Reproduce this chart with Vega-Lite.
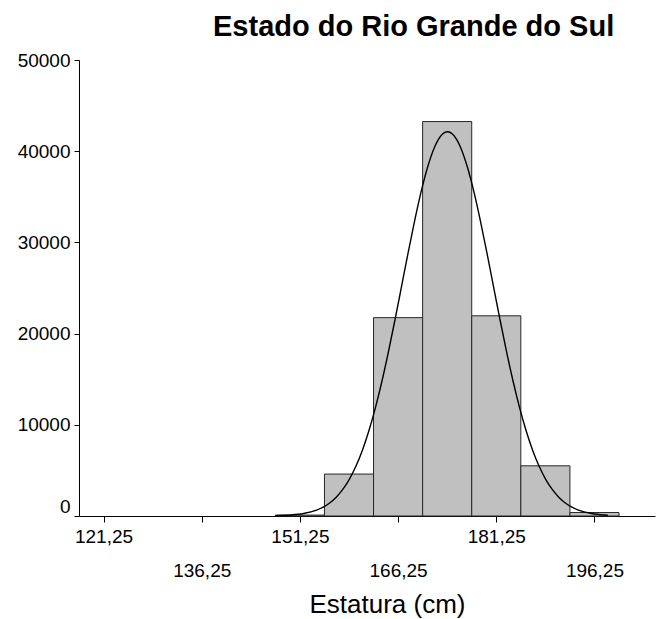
{
  "$schema": "https://vega.github.io/schema/vega-lite/v6.json",
  "width": 576,
  "height": 456,
  "autosize": {"type": "none"},
  "padding": {"left": 79, "top": 60, "right": 4, "bottom": 103},
  "background": "white",
  "config": {
    "view": {"stroke": null},
    "font": "Liberation Sans",
    "axis": {"labelFont": "Liberation Sans", "titleFont": "Liberation Sans", "labelColor": "black", "titleColor": "black", "domainColor": "black", "tickColor": "black", "grid": false, "titleFontWeight": "normal"}
  },
  "title": {
    "text": "Estado do Rio Grande do Sul",
    "font": "Liberation Sans",
    "fontSize": 29,
    "fontWeight": "bold",
    "color": "black",
    "anchor": "start",
    "frame": "group",
    "dx": 134,
    "baseline": "alphabetic",
    "offset": -14
  },
  "datasets": {
    "bars": [
      {"bin_start": 147.5, "bin_end": 155, "count": 100},
      {"bin_start": 155, "bin_end": 162.5, "count": 4600},
      {"bin_start": 162.5, "bin_end": 170, "count": 21750},
      {"bin_start": 170, "bin_end": 177.5, "count": 43250},
      {"bin_start": 177.5, "bin_end": 185, "count": 21950},
      {"bin_start": 185, "bin_end": 192.5, "count": 5500},
      {"bin_start": 192.5, "bin_end": 200, "count": 380}
    ],
    "curve": [
      {"x": 147.5, "y": 30},
      {"x": 149.8, "y": 103},
      {"x": 151.8, "y": 270},
      {"x": 153.8, "y": 648},
      {"x": 154.8, "y": 973},
      {"x": 155.8, "y": 1432},
      {"x": 156.8, "y": 2063},
      {"x": 157.8, "y": 2912},
      {"x": 158.8, "y": 4025},
      {"x": 159.8, "y": 5450},
      {"x": 160.8, "y": 7220},
      {"x": 161.8, "y": 9370},
      {"x": 162.8, "y": 11910},
      {"x": 163.8, "y": 14830},
      {"x": 164.8, "y": 18090},
      {"x": 165.8, "y": 21600},
      {"x": 166.8, "y": 25260},
      {"x": 167.8, "y": 28930},
      {"x": 168.8, "y": 32450},
      {"x": 169.8, "y": 35650},
      {"x": 170.8, "y": 38350},
      {"x": 171.8, "y": 40410},
      {"x": 172.8, "y": 41690},
      {"x": 173.8, "y": 42130},
      {"x": 174.8, "y": 41690},
      {"x": 175.8, "y": 40410},
      {"x": 176.8, "y": 38350},
      {"x": 177.8, "y": 35650},
      {"x": 178.8, "y": 32450},
      {"x": 179.8, "y": 28930},
      {"x": 180.8, "y": 25260},
      {"x": 181.8, "y": 21600},
      {"x": 182.8, "y": 18090},
      {"x": 183.8, "y": 14830},
      {"x": 184.8, "y": 11910},
      {"x": 185.8, "y": 9370},
      {"x": 186.8, "y": 7220},
      {"x": 187.8, "y": 5450},
      {"x": 188.8, "y": 4025},
      {"x": 189.8, "y": 2912},
      {"x": 190.8, "y": 2063},
      {"x": 191.8, "y": 1432},
      {"x": 192.8, "y": 973},
      {"x": 193.8, "y": 648},
      {"x": 195.8, "y": 270},
      {"x": 197.8, "y": 103},
      {"x": 198.3, "y": 80}
    ]
  },
  "layer": [
    {
      "data": {"name": "bars"},
      "mark": {"type": "rect", "fill": "#c0c0c0", "stroke": "#262626", "strokeWidth": 1},
      "encoding": {
        "x": {
          "field": "bin_start", "type": "quantitative",
          "scale": {"domain": [117.5, 205.5], "nice": false, "zero": false},
          "axis": {
            "values": [121.25, 136.25, 151.25, 166.25, 181.25, 196.25],
            "labelExpr": "replace(format(datum.value, '.2f'), '.', ',')",
            "labelFontSize": 19,
            "labelBaseline": "top",
            "labelPadding": {"condition": {"test": "indexof([136.25, 166.25, 196.25], datum.value) >= 0", "value": 39}, "value": 5},
            "tickSize": 6,
            "labelFlush": false,
            "labelOverlap": false,
            "title": "Estatura (cm)",
            "titleFontSize": 26,
            "titleX": 308,
            "titleY": 96,
            "titleAlign": "center",
            "titleBaseline": "alphabetic"
          }
        },
        "x2": {"field": "bin_end"},
        "y": {
          "field": "count", "type": "quantitative",
          "scale": {"domain": [0, 50000], "nice": false},
          "axis": {
            "values": [0, 10000, 20000, 30000, 40000, 50000],
            "format": "d",
            "labelFontSize": 19,
            "tickSize": 5,
            "labelPadding": 4,
            "labelOffset": {"condition": {"test": "datum.value == 0", "value": -10}, "value": 0},
            "title": null
          }
        },
        "y2": {"datum": 0}
      }
    },
    {
      "data": {"name": "curve"},
      "mark": {"type": "line", "color": "black", "strokeWidth": 1.4, "interpolate": "monotone"},
      "encoding": {
        "x": {"field": "x", "type": "quantitative"},
        "y": {"field": "y", "type": "quantitative"}
      }
    }
  ]
}
